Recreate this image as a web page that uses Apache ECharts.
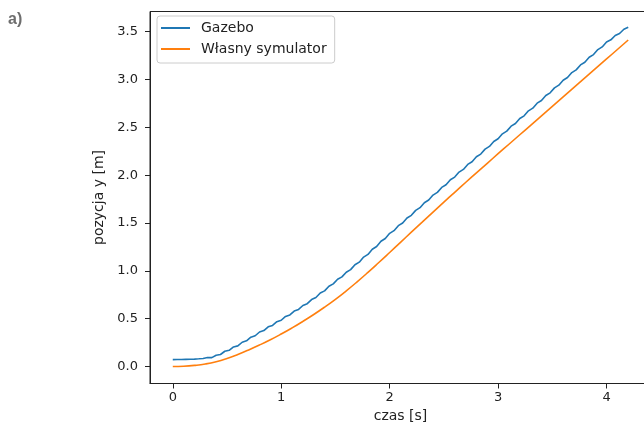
<!DOCTYPE html>
<html><head><meta charset="utf-8">
<script src="https://cdn.jsdelivr.net/npm/echarts@6/dist/echarts.min.js"></script>
<style>html,body{margin:0;padding:0;background:#fff}#c{width:644px;height:426px}</style>
</head><body><div id="c"></div>
<script>
const seriesNames = ['Gazebo', 'Własny symulator'];
const gazeboTime = [0,0.04,0.08,0.12,0.16,0.2,0.24,0.28,0.32,0.36,0.4,0.44,0.48,0.52,0.56,0.6,0.64,0.68,0.72,0.76,0.8,0.84,0.88,0.92,0.96,1,1.04,1.08,1.12,1.16,1.2,1.24,1.28,1.32,1.36,1.4,1.44,1.48,1.52,1.56,1.6,1.64,1.68,1.72,1.76,1.8,1.84,1.88,1.92,1.96,2,2.04,2.08,2.12,2.16,2.2,2.24,2.28,2.32,2.36,2.4,2.44,2.48,2.52,2.56,2.6,2.64,2.68,2.72,2.76,2.8,2.84,2.88,2.92,2.96,3,3.04,3.08,3.12,3.16,3.2,3.24,3.28,3.32,3.36,3.4,3.44,3.48,3.52,3.56,3.6,3.64,3.68,3.72,3.76,3.8,3.84,3.88,3.92,3.96,4,4.04,4.08,4.12,4.16,4.2];
const gazeboY = [0.072,0.073,0.074,0.075,0.076,0.078,0.081,0.085,
0.094,0.093,0.118,0.126,0.160,0.170,0.205,0.216,0.254,0.269,
0.307,0.322,0.361,0.376,0.415,0.430,0.469,0.484,0.524,0.540,
0.580,0.597,0.638,0.657,0.700,0.721,0.768,0.791,0.839,0.864,
0.912,0.937,0.986,1.013,1.064,1.091,1.144,1.172,1.226,1.255,
1.309,1.338,1.392,1.420,1.472,1.500,1.552,1.580,1.632,1.660,
1.712,1.740,1.792,1.820,1.872,1.900,1.952,1.980,2.032,2.060,
2.112,2.140,2.192,2.220,2.272,2.300,2.352,2.380,2.432,2.460,
2.512,2.540,2.592,2.620,2.672,2.700,2.752,2.780,2.832,2.860,
2.912,2.940,2.992,3.020,3.072,3.100,3.152,3.180,3.232,3.260,
3.312,3.340,3.392,3.414,3.459,3.480,3.525,3.546];
const simTime = [0,0.1,0.2,0.3,0.4,0.5,0.6,0.7,0.8,0.9,1,1.1,1.2,1.3,1.4,1.5,1.6,1.7,1.8,1.9,2,2.1,2.2,2.3,2.4,2.5,2.6,2.7,2.8,2.9,3,3.1,3.2,3.3,3.4,3.5,3.6,3.7,3.8,3.9,4,4.1,4.2];
const simY = [0.000,0.003,0.012,0.027,0.051,0.085,0.127,0.174,0.225,0.280,
0.340,0.404,0.472,0.544,0.621,0.703,0.791,0.885,0.984,1.087,
1.192,1.298,1.404,1.509,1.614,1.718,1.821,1.923,2.024,2.124,
2.224,2.323,2.422,2.521,2.620,2.719,2.818,2.917,3.016,3.115,
3.214,3.313,3.412];
const xTicks = [0,1,2,3,4];
const yTicks = [0,0.5,1,1.5,2,2.5,3,3.5];
const xAxisTitle = 'czas [s]';
const yAxisTitle = 'pozycja y [m]';
const panelLabel = 'a)';

const FONT = 'DejaVu Sans';
const TXT = '#222';
const chart = echarts.init(document.getElementById('c'), null, {renderer: 'canvas'});
const zip = (a, b) => a.map((v, i) => [v, b[i]]);
const axisLineStyle = {show: true, onZero: false, lineStyle: {color: TXT, width: 1}};
chart.setOption({
  animation: false,
  backgroundColor: '#fff',
  grid: {left: 150, top: 11.5, width: 501, bottom: 42.5, outerBoundsMode: 'none', containLabel: false, show: true, borderColor: TXT, borderWidth: 1, backgroundColor: 'transparent'},
  graphic: [{type: 'text', left: 8, top: 12, style: {text: panelLabel, fontFamily: 'Liberation Sans', fontWeight: 'bold', fontSize: 16, fill: '#6e6e6e'}}],
  legend: {
    data: seriesNames, orient: 'vertical', left: 157, top: 16,
    padding: [5, 8, 7, 4], itemGap: 7, itemWidth: 29, itemHeight: 2, icon: 'rect',
    backgroundColor: '#fff', borderColor: '#ccc', borderWidth: 1, borderRadius: 3,
    textStyle: {fontFamily: FONT, fontSize: 14, color: TXT, lineHeight: 14, padding: [0, 0, 0, 6]}
  },
  xAxis: {
    type: 'value', min: -0.21, max: 4.41,
    name: xAxisTitle, nameLocation: 'middle', nameGap: 26,
    nameTextStyle: {fontFamily: FONT, fontSize: 14, color: TXT},
    axisLine: axisLineStyle, splitLine: {show: false},
    axisTick: {show: true, customValues: xTicks, length: 5, lineStyle: {color: TXT, width: 1}},
    axisLabel: {customValues: xTicks, fontFamily: FONT, fontSize: 13, color: TXT, margin: 8, formatter: v => String(v)}
  },
  yAxis: {
    type: 'value', min: -0.177, max: 3.71,
    name: yAxisTitle, nameLocation: 'middle', nameGap: 38, nameRotate: 90,
    nameTextStyle: {fontFamily: FONT, fontSize: 14, color: TXT},
    axisLine: axisLineStyle, splitLine: {show: false},
    axisTick: {show: true, customValues: yTicks, length: 5, lineStyle: {color: TXT, width: 1}},
    axisLabel: {customValues: yTicks, fontFamily: FONT, fontSize: 13, color: TXT, margin: 12, formatter: v => v.toFixed(1)}
  },
  series: [
    {name: seriesNames[0], type: 'line', data: zip(gazeboTime, gazeboY), showSymbol: false, symbol: 'none', lineStyle: {color: '#1f77b4', width: 1.6}, itemStyle: {color: '#1f77b4'}},
    {name: seriesNames[1], type: 'line', data: zip(simTime, simY), showSymbol: false, symbol: 'none', smooth: true, lineStyle: {color: '#ff7f0e', width: 1.6}, itemStyle: {color: '#ff7f0e'}}
  ]
});
</script></body></html>
